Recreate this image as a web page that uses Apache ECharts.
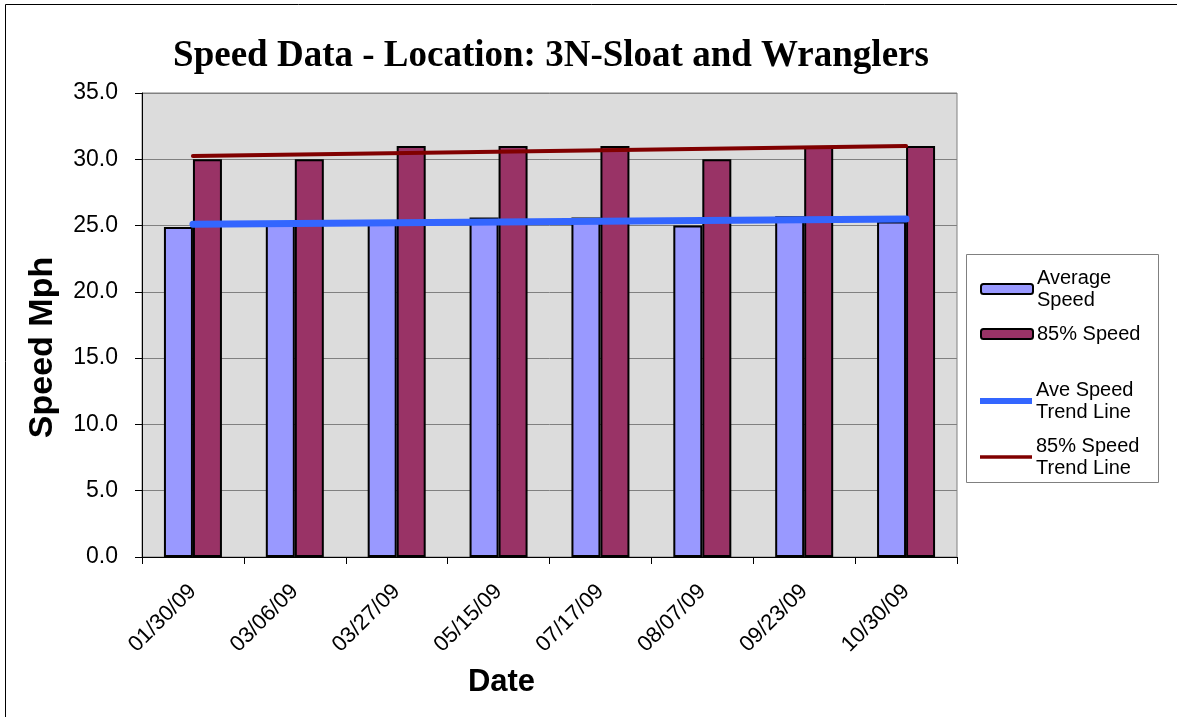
<!DOCTYPE html>
<html>
<head>
<meta charset="utf-8">
<script src="https://cdn.jsdelivr.net/npm/echarts@6/dist/echarts.min.js"></script>
<style>html,body{margin:0;padding:0;background:#fff;}#c{width:1177px;height:717px;}</style>
</head>
<body>
<div id="c"></div>
<script>
const categories = ['01/30/09','03/06/09','03/27/09','05/15/09','07/17/09','08/07/09','09/23/09','10/30/09'];
const avgSpeed = [24.9, 25.2, 25.2, 25.6, 25.6, 25.0, 25.7, 25.3];
const speed85 = [30, 30, 31, 31, 31, 30, 31, 31];
const avgTrendEnds = [25.1, 25.5];
const trend85Ends = [30.25, 31.0];
const yTicks = [0, 35, 5];

const chart = echarts.init(document.getElementById('c'));
const F = 'Arial, "Liberation Sans", sans-serif';
chart.setOption({
  animation: false,
  backgroundColor: '#fff',
  title: {
    text: 'Speed Data - Location: 3N-Sloat and Wranglers',
    left: 546, top: 33, textAlign: 'center',
    textStyle: {fontFamily: '"Liberation Serif", "DejaVu Serif", serif', fontWeight: 'bold', fontSize: 37, color: '#000'}
  },
  graphic: [
    {type: 'rect', shape: {x: 5.5, y: 4.5, width: 1200, height: 800}, style: {fill: 'none', stroke: '#000', lineWidth: 1}, silent: true, z: 0},
    {type: 'rect', shape: {x: 966.5, y: 254.5, width: 192, height: 228}, style: {fill: '#fff', stroke: '#808080', lineWidth: 1}, silent: true, z: 0}
  ],
  legend: [
    {
      data: ['Average Speed', '85% Speed'],
      left: 975, top: 262, orient: 'vertical', itemGap: 12,
      itemWidth: 52, itemHeight: 10,
      formatter: n => n === 'Average Speed' ? 'Average\nSpeed' : n,
      textStyle: {fontFamily: F, fontSize: 20, color: '#000', lineHeight: 22, padding: [0,0,0,-1]},
      itemStyle: {borderColor: '#000', borderWidth: 2}
    },
    {
      data: [
        {name: 'Ave Speed Trend Line', icon: 'path://M0,0 L52,0 L52,6 L0,6 Z'},
        {name: '85% Speed Trend Line', icon: 'path://M0,0 L52,0 L52,3.5 L0,3.5 Z'}
      ],
      left: 975, top: 374, orient: 'vertical', itemGap: 12,
      itemWidth: 52, itemHeight: 10,
      formatter: n => n.replace(' Trend', '\nTrend'),
      textStyle: {fontFamily: F, fontSize: 20, color: '#000', lineHeight: 22, padding: [0,0,0,-1]}
    }
  ],
  grid: {left: 142, right: 220, top: 93, bottom: 160, show: true, backgroundColor: '#dcdcdc', borderColor: '#808080', borderWidth: 1},
  xAxis: {
    type: 'category', data: categories, boundaryGap: true,
    name: 'Date', nameLocation: 'middle', nameGap: 110,
    nameTextStyle: {fontFamily: F, fontWeight: 'bold', fontSize: 31, color: '#000', padding: [0, 96, 0, 0]},
    axisLine: {lineStyle: {color: '#000', width: 1}},
    axisTick: {show: true, length: 7, alignWithLabel: false, lineStyle: {color: '#000'}},
    axisLabel: {rotate: 45, fontFamily: F, fontSize: 22, color: '#000', margin: 31}
  },
  yAxis: {
    type: 'value', min: yTicks[0], max: yTicks[1], interval: yTicks[2],
    name: 'Speed Mph', nameLocation: 'middle', nameGap: 82, nameRotate: 90,
    nameTextStyle: {fontFamily: F, fontWeight: 'bold', fontSize: 34, color: '#000', padding: [0, 45, 0, 0]},
    axisLine: {show: true, lineStyle: {color: '#000', width: 1}},
    axisTick: {show: true, length: 7, lineStyle: {color: '#000'}},
    axisLabel: {formatter: v => v.toFixed(1), fontFamily: F, fontSize: 23, color: '#000', margin: 24},
    splitLine: {lineStyle: {color: '#808080', width: 1}}
  },
  series: [
    {name: 'Average Speed', type: 'bar', data: avgSpeed, barWidth: 29, barGap: '0%',
     itemStyle: {color: '#9999ff', borderColor: '#000', borderWidth: 2}, z: 2},
    {name: '85% Speed', type: 'bar', data: speed85, barWidth: 29,
     itemStyle: {color: '#993366', borderColor: '#000', borderWidth: 2}, z: 2},
    {name: 'Ave Speed Trend Line', type: 'line', symbol: 'none',
     data: [[categories[0], avgTrendEnds[0]], [categories[categories.length-1], avgTrendEnds[1]]],
     lineStyle: {color: '#3366ff', width: 7, cap: 'round'}, itemStyle: {color: '#3366ff'}, z: 5},
    {name: '85% Speed Trend Line', type: 'line', symbol: 'none',
     data: [[categories[0], trend85Ends[0]], [categories[categories.length-1], trend85Ends[1]]],
     lineStyle: {color: '#800000', width: 4, cap: 'round'}, itemStyle: {color: '#800000'}, z: 5}
  ]
});
</script>
</body>
</html>
